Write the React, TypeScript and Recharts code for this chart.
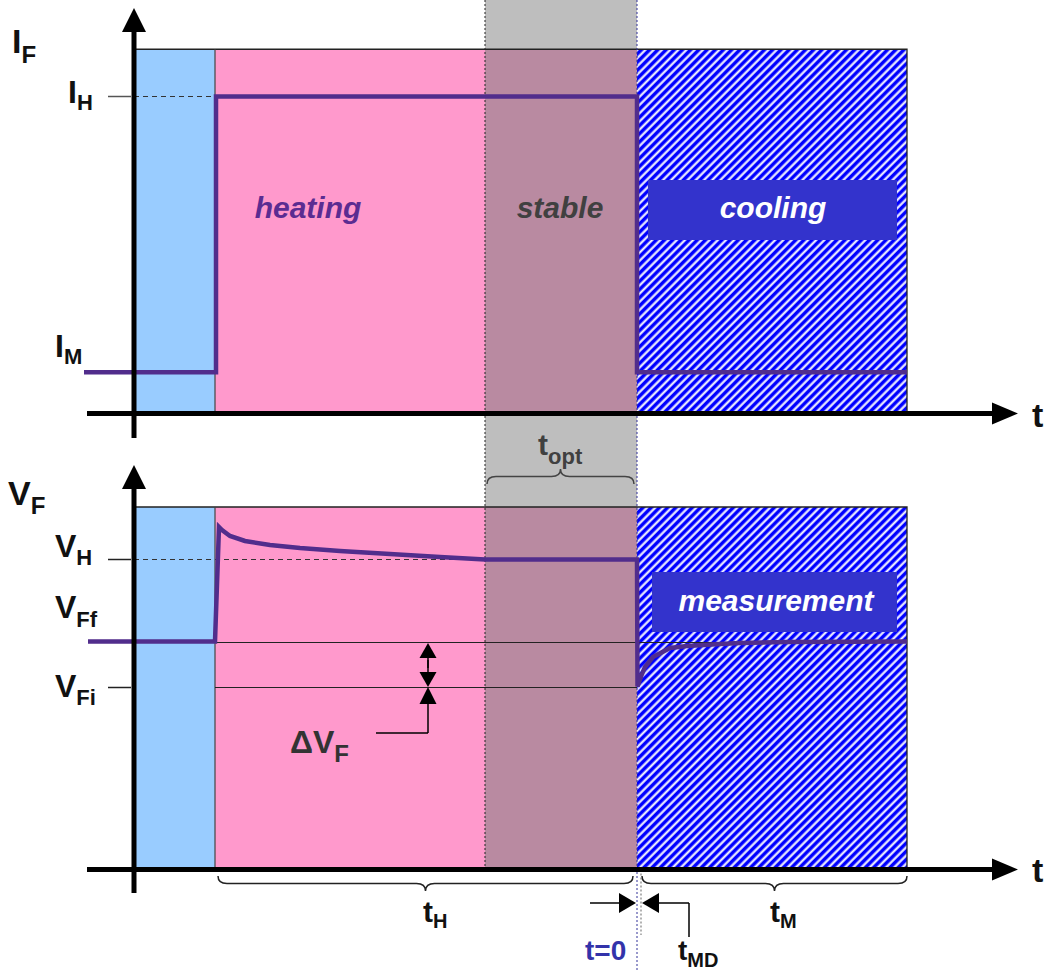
import React from 'react';
import { ComposedChart, Line, XAxis, YAxis, ReferenceArea, ReferenceLine } from 'recharts';

// time in arbitrary units, t = 0 where the heating current is switched off
const phaseNames = ['idle', 'heating', 'stable', 'cooling'];
const phaseStart = [-50.3, -42.2, -15.2, 0];
const phaseEnd = [-42.2, 0, 0, 27];

// forward current I_F
const iT = [-55.3, -42.1, -42.1, 0, 0, 27];
const iVal = [1.3, 1.3, 10, 10, 1.3, 1.3];
const I_H = 10;
const I_TOP = 11.49; // top edge of the coloured phases

// forward voltage V_F
const vT = [-54.9, -42.2, -41.8, -41.5, -40.7, -39.2, -36.7, -33.7, -29.7, -24.7, -19.7, -15.2, 0, 0.05, 0.4, 0.8, 1.6, 3.3, 5, 8.3, 10.3, 15, 27];
const vVal = [2.28, 2.28, 3.425, 3.395, 3.335, 3.285, 3.245, 3.215, 3.185, 3.155, 3.125, 3.1, 3.1, 1.83, 1.93, 2.025, 2.125, 2.215, 2.235, 2.255, 2.265, 2.275, 2.28];
const V_H = 3.1;
const V_FF = 2.28;
const V_FI = 1.82;
const V_TOP = 3.625;

const W = 1044;
const H = 972;
// page pixels -> data units (used only to place annotations)
const X = (px: number) => (px - 637) / 10;
const YI = (py: number) => (413.5 - py) / 31.7;
const YV = (py: number) => (869.5 - py) / 100;
const X_DOM = [X(0), X(W)];
const I_DOM = [YI(H), YI(0)];
const V_DOM = [YV(H), YV(0)];

const FONT = '"Liberation Sans", Arial, Helvetica, sans-serif';
const PURPLE = '#512D8C';
const BLUE = '#99CCFF';
const PINK = '#FF99CC';
const MAUVE = '#B98AA1';
const GRAY = '#BEBEBE';
const BOX = '#3333CC';

type Pt = [number, number];

const txt = (main: string, sub: string | null, o: any) => (p: any) => (
  <text
    x={p.x1}
    y={p.y1}
    fontFamily={FONT}
    fontWeight="bold"
    fontSize={o.size}
    fontStyle={o.italic ? 'italic' : 'normal'}
    fill={o.color || '#111'}
    textAnchor={o.anchor || 'start'}
  >
    {main}
    {sub ? (
      <tspan fontSize={o.subSize} dy={o.dy}>
        {sub}
      </tspan>
    ) : null}
  </text>
);

const arrow = (w: number, head: number, half: number, color = '#000') => (p: any) => {
  const { x1, y1, x2, y2 } = p;
  const L = Math.hypot(x2 - x1, y2 - y1) || 1;
  const ux = (x2 - x1) / L;
  const uy = (y2 - y1) / L;
  const bx = x2 - ux * head;
  const by = y2 - uy * head;
  return (
    <g>
      <line x1={x1} y1={y1} x2={bx} y2={by} stroke={color} strokeWidth={w} />
      <polygon points={`${x2},${y2} ${bx - uy * half},${by + ux * half} ${bx + uy * half},${by - ux * half}`} fill={color} />
    </g>
  );
};

const plain = (color: string, w: number, dash?: string) => (p: any) => (
  <line x1={p.x1} y1={p.y1} x2={p.x2} y2={p.y2} stroke={color} strokeWidth={w} strokeDasharray={dash} />
);

const brace = (dir: number, color: string) => (p: any) => {
  const { x1, x2, y1: y } = p;
  const m = (x1 + x2) / 2;
  const d = dir * 7.5;
  const r = 9;
  const path = `M${x1},${y} Q${x1},${y + d} ${x1 + r},${y + d} L${m - r},${y + d} Q${m},${y + d} ${m},${y + 2 * d} Q${m},${y + d} ${m + r},${y + d} L${x2 - r},${y + d} Q${x2},${y + d} ${x2},${y}`;
  return <path d={path} fill="none" stroke={color} strokeWidth={1.5} />;
};

const ref = (key: string, axis: string, a: Pt, b: Pt, shape: any, z = 600) => (
  <ReferenceLine
    key={key}
    yAxisId={axis}
    segment={[{ x: a[0], y: a[1] }, { x: b[0], y: b[1] }]}
    ifOverflow="visible"
    shape={shape}
    zIndex={z}
  />
);

const at = (key: string, axis: string, a: Pt, shape: any) => ref(key, axis, a, a, shape, 2000);

const panelFill = (axis: string, top: number) =>
  phaseNames.map((name, k) => {
    const fill = name === 'idle' ? BLUE : name === 'heating' ? PINK : name === 'stable' ? MAUVE : `url(#hatch)`;
    return (
      <ReferenceArea
        key={`${axis}-${name}`}
        yAxisId={axis}
        x1={phaseStart[k]}
        x2={phaseEnd[k]}
        y1={0}
        y2={top}
        fill={fill}
        fillOpacity={1}
        stroke="none"
        ifOverflow="visible"
        zIndex={100}
      />
    );
  });

export default function App() {
  const iData = iT.map((t, k) => ({ t, v: iVal[k] }));
  const vData = vT.map((t, k) => ({ t, v: vVal[k] }));
  const tStable = phaseStart[2];
  const tHeat = phaseStart[1];
  const tEnd = phaseEnd[3];
  const tAxis = phaseStart[0];

  return (
    <div style={{ position: 'absolute', left: 0, top: 0, width: W, height: H, background: '#fff' }}>
      <ComposedChart width={W} height={H} margin={{ top: 0, right: 0, bottom: 0, left: 0 }}>
        <defs>
          <pattern id="hatch" patternUnits="userSpaceOnUse" width="5.8" height="5.8" patternTransform="rotate(45)">
            <rect width="5.8" height="5.8" fill="#ffffff" />
            <rect width="3.3" height="5.8" fill="#0000FF" />
            <rect x="3.3" width="0.6" height="5.8" fill="#7070ff" />
            <rect x="5.2" width="0.6" height="5.8" fill="#9090ff" />
          </pattern>
        </defs>
        <XAxis type="number" dataKey="t" domain={X_DOM} hide allowDataOverflow />
        <YAxis yAxisId="i" type="number" domain={I_DOM} hide allowDataOverflow />
        <YAxis yAxisId="v" type="number" domain={V_DOM} hide allowDataOverflow />

        {/* stable window spans both panels */}
        <ReferenceArea yAxisId="v" x1={tStable} x2={0} y1={0} y2={V_DOM[1]} fill={GRAY} fillOpacity={1} stroke="none" ifOverflow="visible" zIndex={100} />
        {panelFill('i', I_TOP)}
        {panelFill('v', V_TOP)}
        <ReferenceArea yAxisId="i" x1={tAxis} x2={tEnd} y1={0} y2={I_TOP} fill="none" stroke="#222" strokeWidth={1.3} ifOverflow="visible" zIndex={100} />
        <ReferenceArea yAxisId="v" x1={tAxis} x2={tEnd} y1={0} y2={V_TOP} fill="none" stroke="#222" strokeWidth={1.3} ifOverflow="visible" zIndex={100} />
        {ref('div-i', 'i', [tHeat, 0], [tHeat, I_TOP], plain('#444', 1.2), 100)}
        {ref('div-v', 'v', [tHeat, 0], [tHeat, V_TOP], plain('#444', 1.2), 100)}

        {/* label boxes */}
        <ReferenceArea yAxisId="i" x1={X(648)} x2={X(897)} y1={YI(240)} y2={YI(180)} fill={BOX} fillOpacity={1} stroke="none" ifOverflow="visible" zIndex={200} />
        <ReferenceArea yAxisId="v" x1={X(652)} x2={X(897)} y1={YV(632)} y2={YV(572)} fill={BOX} fillOpacity={1} stroke="none" ifOverflow="visible" zIndex={200} />

        {/* level lines, ticks and dotted time markers */}
        {ref('ih-tick', 'i', [X(108), I_H], [X(131), I_H], plain('#555', 1.5), 300)}
        {ref('ih-dash', 'i', [tAxis, I_H], [tHeat, I_H], plain('#333', 1.2, '5 4'), 300)}
        {ref('vh-tick', 'v', [X(108), V_H], [X(131), V_H], plain('#222', 1.5), 300)}
        {ref('vh-dash', 'v', [tAxis, V_H], [tStable, V_H], plain('#333', 1.2, '5 4'), 300)}
        {ref('vfi-tick', 'v', [X(108), V_FI], [X(131), V_FI], plain('#222', 1.5), 300)}
        {ref('vff-line', 'v', [tHeat, V_FF - 0.01], [tEnd, V_FF - 0.01], plain('#222', 1.2), 300)}
        {ref('vfi-line', 'v', [tHeat, V_FI], [0, V_FI], plain('#222', 1.2), 300)}
        {ref('dot-stable', 'v', [tStable, V_DOM[1]], [tStable, 0], plain('#222', 1, '2 2'), 300)}
        {ref('dot-t0', 'v', [0, V_DOM[1]], [0, V_DOM[0]], plain('#333399', 1, '2 2'), 300)}
        {ref('dot-tmd', 'v', [X(641), 0], [X(641), YV(935)], plain('#999', 1.5, '2 2'), 300)}

        <Line yAxisId="i" data={iData} dataKey="v" type="linear" stroke={PURPLE} strokeWidth={4.5} dot={false} activeDot={false} isAnimationActive={false} zIndex={400} />
        <Line yAxisId="v" data={vData} dataKey="v" type="linear" stroke={PURPLE} strokeWidth={4.5} dot={false} activeDot={false} isAnimationActive={false} zIndex={400} />

        {/* axes with arrow heads */}
        {ref('ax-it', 'i', [X(87), 0], [X(1018), 0], arrow(5, 26, 11), 500)}
        {ref('ax-iy', 'i', [X(134), YI(438)], [X(134), YI(8)], arrow(5, 24, 12), 500)}
        {ref('ax-vt', 'v', [X(87), 0], [X(1018), 0], arrow(5, 26, 11), 500)}
        {ref('ax-vy', 'v', [X(134), YV(893)], [X(134), YV(465)], arrow(5, 24, 12), 500)}

        {/* delta V_F marker */}
        {ref('dv-up', 'v', [X(428), YV(668)], [X(428), YV(643)], arrow(1.5, 15, 8.5), 500)}
        {ref('dv-down', 'v', [X(428), YV(660)], [X(428), YV(687)], arrow(1.5, 15, 8.5), 500)}
        {ref('dv-lead', 'v', [X(428), YV(733)], [X(428), YV(687)], arrow(1.5, 17, 8.5), 500)}
        {ref('dv-leadh', 'v', [X(376), YV(733)], [X(428), YV(733)], plain('#000', 1.5), 500)}

        {/* t_MD marker */}
        {ref('tmd-l', 'v', [X(590), YV(903)], [X(636), YV(903)], arrow(1.5, 17, 10), 500)}
        {ref('tmd-r', 'v', [X(689), YV(903)], [X(642), YV(903)], arrow(1.5, 17, 10), 500)}
        {ref('tmd-d', 'v', [X(689), YV(903)], [X(689), YV(937)], plain('#000', 1.5), 500)}

        {/* braces */}
        {ref('br-th', 'v', [X(218), YV(876)], [X(633), YV(876)], brace(1, '#222'), 500)}
        {ref('br-tm', 'v', [X(642), YV(876)], [X(907), YV(876)], brace(1, '#222'), 500)}
        {ref('br-topt', 'v', [X(487), YV(484)], [X(634), YV(484)], brace(-1, '#444'), 500)}

        {/* texts */}
        {at('t-if', 'i', [X(12), YI(53)], txt('I', 'F', { size: 34, subSize: 24, dy: 10 }))}
        {at('t-ih', 'i', [X(68), YI(103)], txt('I', 'H', { size: 32, subSize: 22, dy: 7 }))}
        {at('t-im', 'i', [X(55), YI(357)], txt('I', 'M', { size: 32, subSize: 22, dy: 7 }))}
        {at('t-ti', 'i', [X(1032), YI(427)], txt('t', null, { size: 34 }))}
        {at('t-heat', 'i', [X(308), YI(218)], txt('heating', null, { size: 30, italic: true, anchor: 'middle', color: '#5B2C91' }))}
        {at('t-stab', 'i', [X(560), YI(218)], txt('stable', null, { size: 30, italic: true, anchor: 'middle', color: '#404040' }))}
        {at('t-cool', 'i', [X(773), YI(218)], txt('cooling', null, { size: 30, italic: true, anchor: 'middle', color: '#ffffff' }))}

        {at('t-vf', 'v', [X(8), YV(505)], txt('V', 'F', { size: 34, subSize: 24, dy: 9 }))}
        {at('t-vh', 'v', [X(55), YV(557)], txt('V', 'H', { size: 32, subSize: 22, dy: 8 }))}
        {at('t-vff', 'v', [X(55), YV(618)], txt('V', 'Ff', { size: 32, subSize: 22, dy: 9 }))}
        {at('t-vfi', 'v', [X(55), YV(697)], txt('V', 'Fi', { size: 32, subSize: 22, dy: 8 }))}
        {at('t-tv', 'v', [X(1032), YV(882)], txt('t', null, { size: 34 }))}
        {at('t-meas', 'v', [X(776), YV(611)], txt('measurement', null, { size: 30, italic: true, anchor: 'middle', color: '#ffffff' }))}
        {at('t-dvf', 'v', [X(290), YV(753)], txt('ΔV', 'F', { size: 32, subSize: 24, dy: 9, color: '#333' }))}
        {at('t-th', 'v', [X(423), YV(922)], txt('t', 'H', { size: 30, subSize: 20, dy: 6 }))}
        {at('t-tm', 'v', [X(770), YV(922)], txt('t', 'M', { size: 30, subSize: 20, dy: 6 }))}
        {at('t-topt', 'v', [X(538), YV(455)], txt('t', 'opt', { size: 30, subSize: 22, dy: 9, color: '#404040' }))}
        {at('t-t0', 'v', [X(585), YV(960)], txt('t=0', null, { size: 28, color: '#3333AA' }))}
        {at('t-tmd', 'v', [X(678), YV(960)], txt('t', 'MD', { size: 28, subSize: 20, dy: 7 }))}
      </ComposedChart>
    </div>
  );
}
